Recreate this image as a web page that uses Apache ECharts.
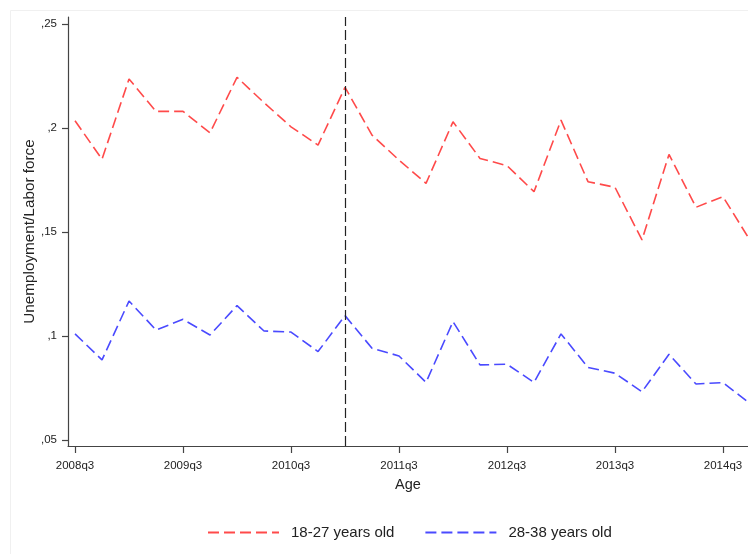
<!DOCTYPE html>
<html>
<head>
<meta charset="utf-8">
<script src="https://cdn.jsdelivr.net/npm/echarts@6/dist/echarts.min.js"></script>
<style>
html,body{margin:0;padding:0;background:#fff;}
#chart{width:748px;height:554px;}
</style>
</head>
<body>
<div id="chart"></div>
<script>
const quarters = ['2008q3','2008q4','2009q1','2009q2','2009q3','2009q4','2010q1','2010q2','2010q3','2010q4','2011q1','2011q2','2011q3','2011q4','2012q1','2012q2','2012q3','2012q4','2013q1','2013q2','2013q3','2013q4','2014q1','2014q2','2014q3','2014q4'];
const young = [0.2035,0.185,0.2236,0.208,0.208,0.1977,0.2244,0.2122,0.2006,0.1918,0.2196,0.1966,0.1846,0.1734,0.203,0.1854,0.1819,0.1694,0.2038,0.1742,0.1715,0.1462,0.1873,0.1619,0.167,0.146];
const older = [0.101,0.0885,0.1168,0.1029,0.108,0.1005,0.1146,0.1024,0.1019,0.0925,0.1098,0.0941,0.0904,0.0777,0.1069,0.0861,0.0864,0.0777,0.101,0.0849,0.0821,0.0732,0.0912,0.0769,0.0776,0.0675];
const xTickLabels = ['2008q3','2009q3','2010q3','2011q3','2012q3','2013q3','2014q3'];
const yTicks = [0.05,0.1,0.15,0.2,0.25];
const seriesNames = ['18-27 years old','28-38 years old'];
const breakQuarter = '2011q1';

const xTickIdx = xTickLabels.map(l => quarters.indexOf(l));
const toPairs = arr => arr.map((v,i) => [i, v]);
const font = 'Liberation Sans, Arial, sans-serif';

const chart = echarts.init(document.getElementById('chart'), null, {renderer:'canvas'});
chart.setOption({
  animation:false,
  backgroundColor:'#fff',
  textStyle:{fontFamily:font},
  graphic:[{
    type:'rect', silent:true, z:-10,
    shape:{x:10.5,y:10.5,width:800,height:600},
    style:{fill:'none',stroke:'#f0f0f0',lineWidth:1}
  }],
  grid:{left:68,top:17,right:0,bottom:108,containLabel:false},
  legend:{
    left:202, top:520,
    itemWidth:71, itemHeight:14, itemGap:30,
    itemStyle:{color:'transparent',borderColor:'transparent',borderWidth:0,opacity:0},
    lineStyle:{width:2},
    textStyle:{fontSize:15,color:'#222',fontFamily:font,padding:[0,0,0,7]},
    data:seriesNames
  },
  xAxis:{
    type:'value',
    min:-0.26, max:24.926,
    name:'Age', nameLocation:'middle', nameGap:31, nameMoveOverlap:false,
    nameTextStyle:{fontSize:14.5,color:'#222',fontFamily:font},
    axisLine:{show:true,onZero:false,lineStyle:{color:'#444',width:1.2}},
    axisTick:{show:true,length:7,lineStyle:{color:'#444',width:1.2},customValues:xTickIdx},
    axisLabel:{show:true,margin:14,fontSize:11.5,color:'#222',fontFamily:font,customValues:xTickIdx,
      formatter:v=>quarters[Math.round(v)]},
    splitLine:{show:false}
  },
  yAxis:{
    type:'value',
    min:0.0471, max:0.2534,
    name:'Unemployment/Labor force', nameLocation:'middle', nameGap:31, nameMoveOverlap:false,
    nameTextStyle:{fontSize:15.3,color:'#222',fontFamily:font},
    axisLine:{show:true,onZero:false,lineStyle:{color:'#444',width:1.2}},
    axisTick:{show:true,length:6,lineStyle:{color:'#444',width:1.2},customValues:yTicks},
    axisLabel:{show:true,margin:11,fontSize:11.5,color:'#222',fontFamily:font,customValues:yTicks,
      formatter:v=>String(+v.toFixed(2)).replace('0.',',')},
    splitLine:{show:false}
  },
  series:[
    {
      name:seriesNames[0], type:'line', symbol:'none', clip:true,
      data:toPairs(young),
      lineStyle:{color:'#ff4a4a',width:1.6,type:[11,5]},
      itemStyle:{color:'#ff4a4a'},
      markLine:{
        silent:true, symbol:['none','none'],
        label:{show:false},
        lineStyle:{color:'#222',width:1.2,type:[10,4]},
        data:[{xAxis:quarters.indexOf(breakQuarter)}]
      }
    },
    {
      name:seriesNames[1], type:'line', symbol:'none', clip:true,
      data:toPairs(older),
      lineStyle:{color:'#4a4aff',width:1.6,type:[11,5]},
      itemStyle:{color:'#4a4aff'}
    }
  ]
});
</script>
</body>
</html>
